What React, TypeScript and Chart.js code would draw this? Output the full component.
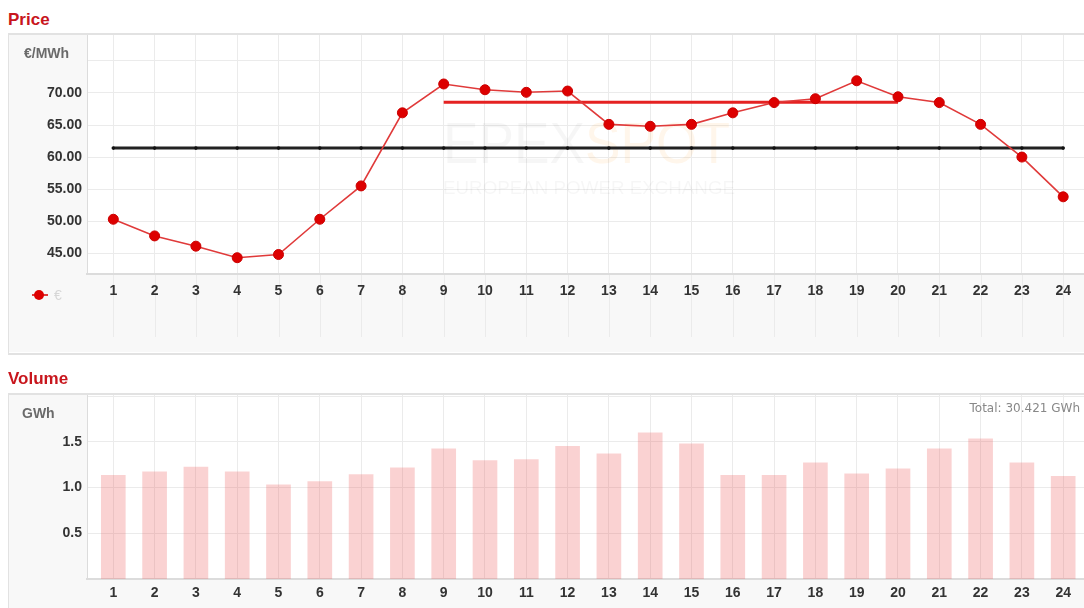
import React, { useEffect, useRef } from 'react';
import { Chart, registerables } from 'chart.js';

Chart.register(...registerables);

// ---------- data ----------
const hours = [1, 2, 3, 4, 5, 6, 7, 8, 9, 10, 11, 12, 13, 14, 15, 16, 17, 18, 19, 20, 21, 22, 23, 24];
const priceValues = [50.3, 47.7, 46.1, 44.3, 44.8, 50.3, 55.5, 66.9, 71.4, 70.5, 70.1, 70.3, 65.1, 64.8, 65.1, 66.9, 68.5, 69.1, 71.9, 69.4, 68.5, 65.1, 60.0, 53.8];
const baseValue = 61.4;
const peakValue = 68.55;
const peakHours = [9, 10, 11, 12, 13, 14, 15, 16, 17, 18, 19, 20];
const volumeValues = [1.134, 1.172, 1.222, 1.172, 1.03, 1.066, 1.142, 1.215, 1.423, 1.295, 1.306, 1.451, 1.368, 1.598, 1.477, 1.134, 1.134, 1.27, 1.15, 1.204, 1.423, 1.532, 1.27, 1.123];
const priceTicks = [45, 50, 55, 60, 65, 70, 75];
const volumeTicks = [0.5, 1.0, 1.5, 2.0];
const priceUnit = '€/MWh';
const volumeUnit = 'GWh';
const volumeTotalText = 'Total: 30.421 GWh';
const legendLabel = '€';

const FONT = "'Liberation Sans', Arial, sans-serif";
const GRID = '#ebebeb';

const panelBg = {
  id: 'panelBg',
  beforeDraw(chart: any, _args: any, opts: any) {
    const { ctx, chartArea: a, width, height } = chart;
    ctx.save();
    ctx.fillStyle = '#f8f8f8';
    ctx.fillRect(0, 0, width, height);
    ctx.fillStyle = '#ffffff';
    ctx.fillRect(a.left, a.top, a.right - a.left, a.bottom - a.top);
    if (opts && opts.extend) {
      const xs = chart.scales.x;
      ctx.strokeStyle = GRID;
      ctx.lineWidth = 1;
      hours.forEach((h) => {
        const px = Math.round(xs.getPixelForValue(h)) + 0.5;
        ctx.beginPath();
        ctx.moveTo(px, a.bottom);
        ctx.lineTo(px, opts.extend);
        ctx.stroke();
      });
    }
    ctx.restore();
  },
};

const watermark = {
  id: 'watermark',
  beforeDatasetsDraw(chart: any) {
    const { ctx } = chart;
    ctx.save();
    ctx.font = `58px ${FONT}`;
    ctx.textBaseline = 'alphabetic';
    const w1 = ctx.measureText('EPEX').width;
    const w2 = ctx.measureText('SPOT').width;
    const sx = 287 / (w1 + w2);
    ctx.translate(434, 128);
    ctx.scale(sx, 1);
    ctx.fillStyle = 'rgba(0,0,0,0.035)';
    ctx.fillText('EPEX', 0, 0);
    ctx.fillStyle = 'rgba(255,150,30,0.09)';
    ctx.fillText('SPOT', w1, 0);
    ctx.restore();
    ctx.save();
    ctx.font = `19px ${FONT}`;
    const w3 = ctx.measureText('EUROPEAN POWER EXCHANGE').width;
    ctx.translate(434, 159);
    ctx.scale(292 / w3, 1);
    ctx.fillStyle = 'rgba(0,0,0,0.035)';
    ctx.fillText('EUROPEAN POWER EXCHANGE', 0, 0);
    ctx.restore();
  },
};

function fixY(width: number) {
  return (axis: any) => {
    axis.width = width;
    axis.paddingTop = 0;
    axis.paddingBottom = 0;
  };
}
function fixX(height: number) {
  return (axis: any) => {
    axis.height = height;
    axis.paddingLeft = 0;
    axis.paddingRight = 0;
  };
}

const X_MIN = 0.363;
const X_MAX = 24.504;

function xScale(height: number, padding: number) {
  return {
    type: 'linear' as const,
    min: X_MIN,
    max: X_MAX,
    offset: false,
    afterBuildTicks: (axis: any) => {
      axis.ticks = hours.map((h) => ({ value: h }));
    },
    afterFit: fixX(height),
    grid: { color: GRID, drawTicks: false, offset: false },
    border: { display: true, color: '#dcdcdc', width: 2 },
    ticks: {
      padding,
      autoSkip: false,
      maxRotation: 0,
      color: '#333',
      font: { family: FONT, size: 14, weight: 'bold' as const },
      callback: (v: any) => String(v),
    },
  };
}

function PriceChart() {
  const ref = useRef<HTMLCanvasElement | null>(null);
  useEffect(() => {
    if (!ref.current) return;
    const chart = new Chart(ref.current, {
      type: 'line',
      data: {
        datasets: [
          {
            label: 'price',
            data: hours.map((h, i) => ({ x: h, y: priceValues[i] })),
            borderColor: '#e03a3a',
            borderWidth: 1.6,
            pointRadius: 5,
            pointBackgroundColor: '#dd0000',
            pointBorderColor: '#cc0000',
            pointBorderWidth: 1,
            tension: 0,
          },
          {
            label: 'peak',
            data: peakHours.map((h) => ({ x: h, y: peakValue })),
            borderColor: '#e52222',
            borderWidth: 3,
            pointRadius: 0,
          },
          {
            label: 'base',
            data: hours.map((h) => ({ x: h, y: baseValue })),
            borderColor: '#222222',
            borderWidth: 3,
            pointRadius: 1.8,
            pointBackgroundColor: '#111',
            pointBorderWidth: 0,
          },
        ],
      },
      options: {
        animation: false,
        responsive: false,
        maintainAspectRatio: false,
        layout: { padding: 0, autoPadding: false },
        plugins: {
          legend: { display: false },
          tooltip: { enabled: false },
          panelBg: { extend: 302 },
        } as any,
        scales: {
          x: xScale(78, 9) as any,
          y: {
            type: 'linear',
            min: 41.76,
            max: 79.04,
            afterBuildTicks: (axis: any) => {
              axis.ticks = priceTicks.map((v) => ({ value: v }));
            },
            afterFit: fixY(78),
            grid: { color: GRID, drawTicks: false },
            border: { display: true, color: '#dcdcdc', width: 1 },
            ticks: {
              padding: 5,
              color: '#333',
              font: { family: FONT, size: 14, weight: 'bold' },
              callback: (v: any) => (v === 75 ? '' : Number(v).toFixed(2)),
            },
          },
        },
      },
      plugins: [panelBg, watermark],
    });
    return () => chart.destroy();
  }, []);
  return <canvas ref={ref} width={1075} height={317} style={{ position: 'absolute', left: 9, top: 35, width: 1075, height: 317 }} />;
}

function VolumeChart() {
  const ref = useRef<HTMLCanvasElement | null>(null);
  useEffect(() => {
    if (!ref.current) return;
    const chart = new Chart(ref.current, {
      type: 'bar',
      data: {
        datasets: [
          {
            label: 'volume',
            data: hours.map((h, i) => ({ x: h, y: volumeValues[i] })),
            backgroundColor: 'rgba(236, 90, 90, 0.27)',
            borderWidth: 0,
            barThickness: 24,
          },
        ],
      },
      options: {
        animation: false,
        responsive: false,
        maintainAspectRatio: false,
        layout: { padding: 0, autoPadding: false },
        plugins: {
          legend: { display: false },
          tooltip: { enabled: false },
        },
        scales: {
          x: xScale(29, 6) as any,
          y: {
            type: 'linear',
            min: 0,
            max: 2.011,
            afterBuildTicks: (axis: any) => {
              axis.ticks = volumeTicks.map((v) => ({ value: v }));
            },
            afterFit: fixY(78),
            grid: { color: GRID, drawTicks: false },
            border: { display: true, color: '#dcdcdc', width: 1 },
            ticks: {
              padding: 5,
              color: '#333',
              font: { family: FONT, size: 14, weight: 'bold' },
              callback: (v: any) => (v >= 2 ? '' : Number(v).toFixed(1)),
            },
          },
        },
      },
      plugins: [panelBg],
    });
    return () => chart.destroy();
  }, []);
  return <canvas ref={ref} width={1075} height={213} style={{ position: 'absolute', left: 9, top: 395, width: 1075, height: 213 }} />;
}

export default function App() {
  const title: React.CSSProperties = {
    position: 'absolute',
    left: 8,
    fontFamily: FONT,
    fontWeight: 'bold',
    fontSize: 17,
    color: '#c8161d',
    lineHeight: '20px',
    whiteSpace: 'nowrap',
  };
  const unit: React.CSSProperties = {
    position: 'absolute',
    fontFamily: FONT,
    fontWeight: 'bold',
    fontSize: 14,
    color: '#6a6a6a',
    lineHeight: '16px',
    whiteSpace: 'nowrap',
  };
  return (
    <div style={{ position: 'fixed', left: 0, top: 0, width: 1084, height: 608, overflow: 'hidden', background: '#fff' }}>
      <div style={{ ...title, top: 10 }}>Price</div>
      <div style={{ position: 'absolute', left: 8, top: 33, width: 1090, height: 318, borderTop: '2px solid #e2e2e2', borderLeft: '1px solid #e2e2e2', borderBottom: '2px solid #e2e2e2' }} />
      <PriceChart />
      <div style={{ ...unit, left: 24, top: 45 }}>{priceUnit}</div>
      <div style={{ position: 'absolute', left: 32, top: 294, width: 16, height: 2, background: '#e03a3a' }} />
      <div style={{ position: 'absolute', left: 34, top: 290, width: 10, height: 10, borderRadius: 5, background: '#dd0000' }} />
      <div style={{ position: 'absolute', left: 54, top: 287, fontFamily: FONT, fontSize: 14, lineHeight: '16px', color: '#d6d6d6' }}>{legendLabel}</div>

      <div style={{ ...title, top: 369 }}>Volume</div>
      <div style={{ position: 'absolute', left: 8, top: 393, width: 1090, height: 230, borderTop: '2px solid #e2e2e2', borderLeft: '1px solid #e2e2e2' }} />
      <VolumeChart />
      <div style={{ ...unit, left: 22, top: 405 }}>{volumeUnit}</div>
      <div style={{ position: 'absolute', right: 4, top: 401, fontFamily: "'DejaVu Sans', Verdana, sans-serif", fontSize: 12, lineHeight: '14px', color: '#888', whiteSpace: 'nowrap' }}>{volumeTotalText}</div>
    </div>
  );
}
